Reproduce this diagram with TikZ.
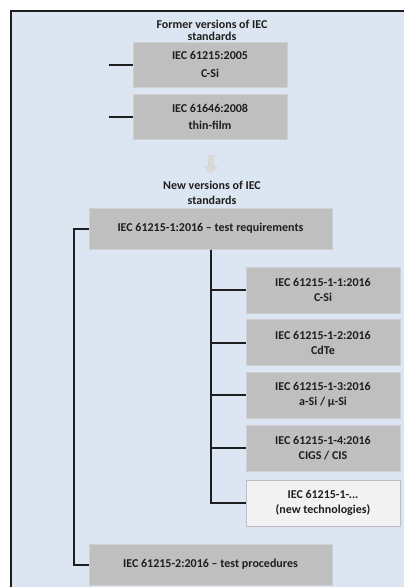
\documentclass[tikz,border=0pt]{standalone}
\usepackage{fontspec}
\setmainfont{Carlito}
\usetikzlibrary{positioning}
\definecolor{panelblue}{HTML}{DCE6F2}
\definecolor{boxgrey}{HTML}{BFBFBF}
\definecolor{boxedge}{HTML}{D0D0D0}
\definecolor{newgrey}{HTML}{F2F2F2}
\definecolor{arrowgrey}{HTML}{D9D9D9}
\definecolor{inkgrey}{HTML}{1E1E1E}
\tikzset{
  heading/.style={inner sep=0pt, align=center, text=inkgrey},
  stdbox/.style={fill=boxgrey, draw=boxedge, line width=0.75pt, inner sep=0pt,
    align=center, text=inkgrey},
  oldbox/.style={stdbox, minimum width=115.5pt, minimum height=33.75pt,
    font=\bfseries\fontsize{9}{13}\selectfont},
  widebox/.style={stdbox, minimum width=182.25pt, minimum height=30.75pt,
    font=\bfseries\fontsize{9}{11}\selectfont},
  subbox/.style={stdbox, minimum width=115.5pt, minimum height=34.5pt,
    font=\bfseries\fontsize{9}{11.25}\selectfont},
  futurebox/.style={subbox, fill=newgrey, draw=boxgrey},
  link/.style={draw=inkgrey, line width=1.5pt}
}

\begin{document}
\begin{tikzpicture}[x=0.75pt,y=-0.75pt]
            \useasboundingbox (0,0) rectangle (404,587);
            \clip (0,0) rectangle (404,587);
            \filldraw[fill=panelblue, draw=inkgrey, line width=1.5pt] (11,11) rectangle (430,610);

            \node[heading, font=\bfseries\fontsize{9}{9}\selectfont] (oldhead) at (212,30) {Former versions of IEC\\standards};
            \node[oldbox] (old1) at (210,64.5) {IEC 61215:2005\\C-Si};
            \node[oldbox] (old2) at (210,117) {IEC 61646:2008\\thin-film};
            \coordinate (o1) at (109,64.5);
            \coordinate (o2) at (109,117);

            \fill[arrowgrey] (207.5,155) -- (214,155) -- (214,166) -- (218,166) -- (210.75,174)
              -- (203.5,166) -- (207.5,166) -- cycle;

            \node[heading, font=\bfseries\fontsize{9}{11.25}\selectfont] (newhead) at (212,192.5) {New versions of IEC\\standards};
            \node[widebox] (req) at (210.5,228.5) {IEC 61215-1:2016 -- test requirements};
            \node[subbox] (s1) at (323,290) {IEC 61215-1-1:2016\\C-Si};
            \node[subbox] (s2) at (323,342.5) {IEC 61215-1-2:2016\\CdTe};
            \node[subbox] (s3) at (323,395) {IEC 61215-1-3:2016\\a-Si / µ-Si};
            \node[subbox] (s4) at (323,448) {IEC 61215-1-4:2016\\CIGS / CIS};
            \node[futurebox] (s5) at (323,503) {IEC 61215-1-...\\(new technologies)};
            \node[widebox] (proc) at (210.5,564.5) {IEC 61215-2:2016 -- test procedures};

            \draw[link] (o1) -- (old1);
            \draw[link] (o2) -- (old2);
            \draw[link] (req.west) -- ++(-15,0) |- (proc.west);
            \foreach \n in {s1,s2,s3,s4,s5}
              \draw[link] (req.south) |- (\n.west);
\end{tikzpicture}
\end{document}
